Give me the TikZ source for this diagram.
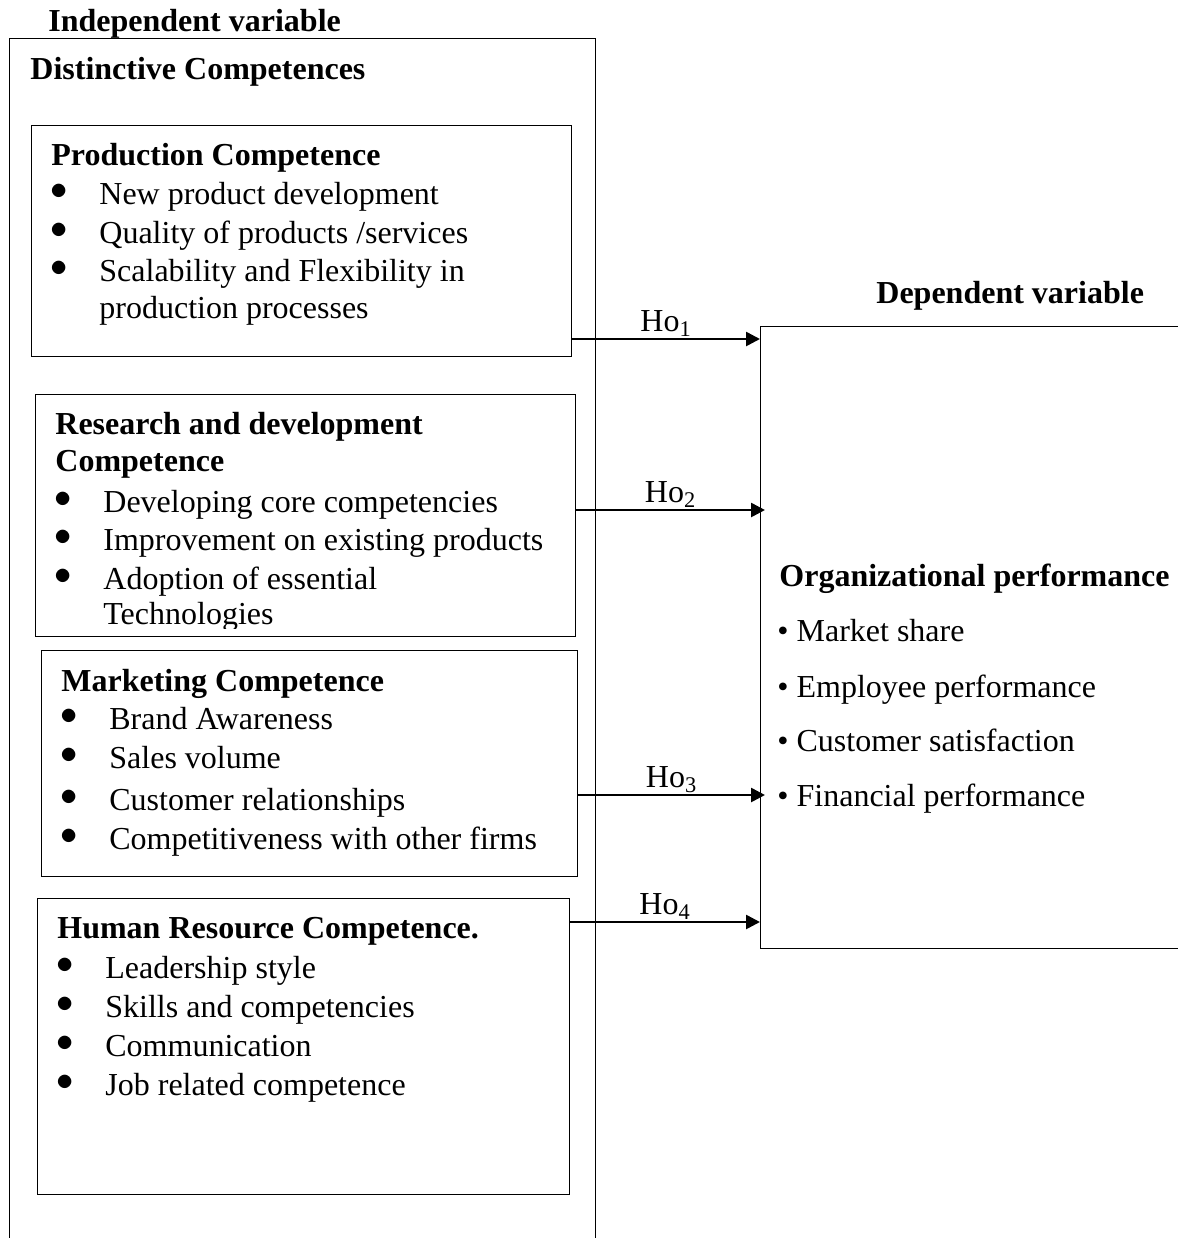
\documentclass[tikz,border=0pt]{standalone}
\usepackage{fontspec}
\setmainfont{Liberation Serif}
\usetikzlibrary{arrows.meta, positioning, calc}
\newcommand{\itm}{\makebox[24.5pt][l]{\raisebox{2.5pt}{$\bullet$}}}

\begin{document}
\begin{tikzpicture}[
  x=0.5pt, y=-0.5pt,
  font=\fontsize{16pt}{19pt}\selectfont,
  box/.style={draw, line width=0.6pt, anchor=north west, inner sep=0pt},
  txt/.style={anchor=base west, inner sep=0pt},
  ttl/.style={txt, font=\fontsize{16pt}{19pt}\selectfont\bfseries},
  hyp/.style={-{Triangle[length=7pt, width=7pt]}, line width=1.3pt}
  ]
  \useasboundingbox (0,0) rectangle (1178,1238);
  % independent side
  \node[ttl] (indep) at (48,31) {Independent variable};
  \node[box, minimum width=293pt, minimum height=610pt] (dc) at (9,38) {};
  \node[ttl] (dctitle) at (30,79) {Distinctive Competences};
  % production
  \node[box, minimum width=270pt, minimum height=115.5pt] (prod) at (31,125) {};
  \node[ttl] (prodt) at (51,165) {Production Competence};
  \node[txt] (p1) at (50,204) {\itm New product development};
  \node[txt] (p2) at (50,243) {\itm Quality of products /services};
  \node[txt] (p3) at (50,281) {\itm Scalability and Flexibility in};
  \node[txt] (p3b) at (99,318) {production processes};
  % research and development
  \node[box, minimum width=270pt, minimum height=121pt] (rd) at (35,394) {};
  \node[ttl] (rdt) at (55,434) {Research and development};
  \node[ttl] (rdtb) at (55,471) {Competence};
  \node[txt] (r1) at (54,512) {\itm Developing core competencies};
  \node[txt] (r2) at (54,550) {\itm Improvement on existing products};
  \node[txt] (r3) at (54,589) {\itm Adoption of essential};
  \coordinate (cut) at (0,628);
  \begin{scope}
    \clip (rd.north west) rectangle (rd.east |- cut);
    \node[txt] (r3b) at (103,624) {Technologies};
  \end{scope}
  % marketing
  \node[box, minimum width=268pt, minimum height=113pt] (mkt) at (41,650) {};
  \node[ttl] (mktt) at (61,691) {Marketing Competence};
  \node[txt] (m1) at (60,729) {\itm Brand Awareness};
  \node[txt] (m2) at (60,768) {\itm Sales volume};
  \node[txt] (m3) at (60,810) {\itm Customer relationships};
  \node[txt] (m4) at (60,849) {\itm Competitiveness with other firms};
  % human resource
  \node[box, minimum width=266pt, minimum height=148pt] (hr) at (37,898) {};
  \node[ttl] (hrt) at (57,938) {Human Resource Competence.};
  \node[txt] (h1) at (56,978) {\itm Leadership style};
  \node[txt] (h2) at (56,1017) {\itm Skills and competencies};
  \node[txt] (h3) at (56,1056) {\itm Communication};
  \node[txt] (h4) at (56,1095) {\itm Job related competence};
  % dependent side
  \node[ttl] (dep) at (876,303) {Dependent variable};
  \node[box, minimum width=220pt, minimum height=311pt] (perf) at (760,326) {};
  \node[ttl] (perft) at (779,586) {Organizational performance};
  \node[txt] (o1) at (777,641) {\textbullet\ Market share};
  \node[txt] (o2) at (777,697) {\textbullet\ Employee performance};
  \node[txt] (o3) at (777,751) {\textbullet\ Customer satisfaction};
  \node[txt] (o4) at (777,806) {\textbullet\ Financial performance};
  % hypotheses
  \coordinate (h1y) at (0,339);
  \coordinate (h2y) at (0,510);
  \coordinate (h3y) at (0,795);
  \coordinate (h4y) at (0,922);
  \draw[hyp] (prod.east |- h1y) -- (perf.west |- h1y) node[midway, above=0.5pt, inner sep=0pt] {Ho\textsubscript{1}};
  \draw[hyp] (rd.east |- h2y) -- ([xshift=2.5pt]perf.west |- h2y) node[midway, above=0.5pt, inner sep=0pt] {Ho\textsubscript{2}};
  \draw[hyp] (mkt.east |- h3y) -- ([xshift=2.5pt]perf.west |- h3y) node[midway, above=0.5pt, inner sep=0pt] {Ho\textsubscript{3}};
  \draw[hyp] (hr.east |- h4y) -- (perf.west |- h4y) node[midway, above=0.5pt, inner sep=0pt] {Ho\textsubscript{4}};
\end{tikzpicture}
\end{document}
